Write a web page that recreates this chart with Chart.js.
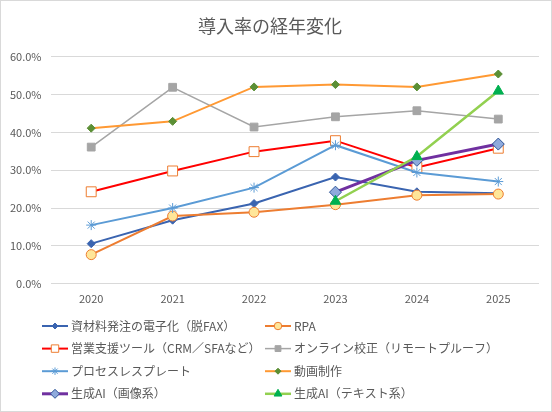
<!DOCTYPE html>
<html lang="ja">
<head>
<meta charset="utf-8">
<script src="https://cdn.jsdelivr.net/npm/chart.js@4"></script>
<style>
  html, body { margin: 0; padding: 0; background: #fff; }
  .frame { width: 552px; height: 412px; box-sizing: border-box; border: 1px solid #d9d9d9; }
  canvas { display: block; }
</style>
</head>
<body>
<div class="frame"><canvas id="adoptionChart" width="550" height="410"></canvas></div>
<script>
// 導入率の経年変化 (%)
const years = ['2020', '2021', '2022', '2023', '2024', '2025'];
const seriesNames = [
    '資材料発注の電子化（脱FAX）', 'RPA',
    '営業支援ツール（CRM／SFAなど）', 'オンライン校正（リモートプルーフ）',
    'プロセスレスプレート', '動画制作',
    '生成AI（画像系）', '生成AI（テキスト系）'
];
const faxless     = [10.6, 16.8, 21.2, 28.2, 24.3, 23.9];
const rpa         = [7.7, 17.9, 18.9, 20.9, 23.4, 23.7];
const salesTools  = [24.3, 29.8, 34.9, 37.8, 30.7, 35.8];
const remoteProof = [36.1, 51.9, 41.4, 44.1, 45.7, 43.5];
const processless = [15.5, 20.0, 25.4, 36.6, 29.4, 27.0];
const videoProd   = [41.1, 42.9, 52.0, 52.6, 52.0, 55.4];
const genAiImage  = [null, null, null, 24.2, 32.6, 36.9];
const genAiText   = [null, null, null, 21.8, 33.6, 50.9];
const yTicks = [0, 10, 20, 30, 40, 50, 60];

const textColor = '#595959';
const jpFont = "'Noto Sans CJK JP', 'Noto Sans', sans-serif";

// Excel風の2列凡例をキャンバス下部に描く
const gridLegend = {
    id: 'gridLegend',
    afterDraw(chart) {
        const ctx = chart.ctx;
        const sets = chart.data.datasets;
        ctx.save();
        sets.forEach((ds, i) => {
            const x0 = (i % 2) ? 264 : 41;
            const y = 325 + Math.floor(i / 2) * 22.6;
            ctx.strokeStyle = ds.borderColor;
            ctx.lineWidth = ds.borderWidth;
            ctx.beginPath();
            ctx.moveTo(x0, y);
            ctx.lineTo(x0 + 26, y);
            ctx.stroke();
            ctx.fillStyle = ds.pointBackgroundColor;
            ctx.strokeStyle = ds.pointBorderColor;
            ctx.lineWidth = ds.pointBorderWidth;
            Chart.helpers.drawPoint(ctx, {
                pointStyle: ds.pointStyle,
                radius: ds.pointRadius * 0.75,
                rotation: 0,
                borderWidth: ds.pointBorderWidth
            }, x0 + 13, y);
            ctx.fillStyle = textColor;
            ctx.font = '12px ' + jpFont;
            ctx.textBaseline = 'middle';
            ctx.fillText(ds.label, x0 + 29, y);
        });
        ctx.restore();
    }
};

function line(label, data, color, width, style, radius, fill, edge, order) {
    return {
        label: label,
        data: data,
        borderColor: color,
        borderWidth: width,
        pointStyle: style,
        pointRadius: radius,
        pointHoverRadius: radius,
        pointBackgroundColor: fill,
        pointBorderColor: edge,
        pointBorderWidth: 1,
        tension: 0,
        order: order
    };
}

document.addEventListener('DOMContentLoaded', () => {
    const cv = document.getElementById('adoptionChart');
    new Chart(cv.getContext('2d'), {
        type: 'line',
        data: {
            labels: years,
            datasets: [
                line(seriesNames[0], faxless, '#3a64b0', 2, 'rectRot', 4, '#3a64b0', '#3a64b0', 8),
                line(seriesNames[1], rpa, '#ed7d31', 2, 'circle', 5, '#ffe699', '#ed7d31', 7),
                line(seriesNames[2], salesTools, '#ff0000', 2, 'rect', 7, '#ffffff', '#ed7d31', 6),
                line(seriesNames[3], remoteProof, '#a5a5a5', 1.5, 'rect', 5.5, '#a5a5a5', '#a5a5a5', 5),
                line(seriesNames[4], processless, '#5b9bd5', 2, 'star', 5, '#5b9bd5', '#5b9bd5', 4),
                line(seriesNames[5], videoProd, '#ff9933', 2, 'rectRot', 4, '#5b8f35', '#5b8f35', 3),
                line(seriesNames[6], genAiImage, '#7030a0', 3, 'rectRot', 6, '#8faadc', '#2f5597', 2),
                line(seriesNames[7], genAiText, '#92d050', 2.5, 'triangle', 6, '#00b050', '#00b050', 1)
            ]
        },
        options: {
            responsive: false,
            animation: false,
            events: [],
            layout: { padding: { left: 0, right: 12, bottom: 106 } },
            plugins: {
                legend: { display: false },
                tooltip: { enabled: false },
                title: {
                    display: true,
                    text: '導入率の経年変化',
                    color: textColor,
                    font: { family: jpFont, size: 18, weight: 'normal' },
                    padding: { top: 14, bottom: 20 }
                }
            },
            scales: {
                x: {
                    offset: true,
                    grid: { display: false },
                    border: { display: false },
                    ticks: { color: textColor, font: { family: jpFont, size: 11 }, padding: 0 }
                },
                y: {
                    min: 0,
                    max: 60,
                    afterBuildTicks: axis => { axis.ticks = yTicks.map(v => ({ value: v })); },
                    grid: { color: '#d9d9d9', drawTicks: false },
                    border: { display: false },
                    ticks: {
                        color: textColor,
                        font: { family: jpFont, size: 11 },
                        padding: 9,
                        callback: v => v.toFixed(1) + '%'
                    }
                }
            }
        },
        plugins: [gridLegend]
    });
});
</script>
</body>
</html>
